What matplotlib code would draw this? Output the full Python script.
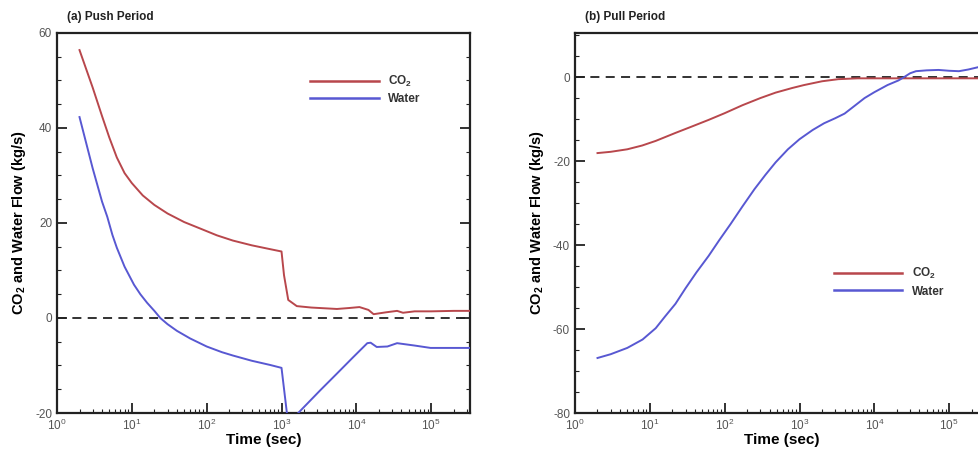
import matplotlib
matplotlib.use("Agg")
import matplotlib.pyplot as plt
from matplotlib.lines import Line2D
from matplotlib.ticker import LogLocator, MultipleLocator, NullFormatter

plt.rcParams['font.family'] = ['Liberation Sans', 'DejaVu Sans']
plt.rcParams['mathtext.fontset'] = 'custom'
plt.rcParams['mathtext.rm'] = 'Liberation Sans'
plt.rcParams['mathtext.bf'] = 'Liberation Sans:bold'
plt.rcParams['axes.unicode_minus'] = False

CO2_COLOR = '#b8474c'
WATER_COLOR = '#5858d2'

# (a) push period
push_t_co2 = [2, 3, 4, 5, 6.3, 8, 10, 14, 20, 30, 50, 80, 137, 224, 400, 700, 1000,
              1080, 1230, 1600, 2500, 5500, 8000, 11000, 14500, 17000, 25000,
              35000, 42000, 60000, 100000, 200000, 330000]
push_co2 = [56.4, 48.5, 42.5, 38.0, 33.8, 30.5, 28.4, 25.8, 23.8, 22.0, 20.2, 18.9,
            17.4, 16.3, 15.3, 14.5, 14.0, 9.0, 3.8, 2.5, 2.2, 1.9, 2.1, 2.3, 1.7,
            0.8, 1.2, 1.5, 1.1, 1.4, 1.4, 1.5, 1.5]

push_t_water = [2, 3, 4, 4.7, 5.5, 6.3, 8, 10.7, 13, 16, 20, 24, 30, 40, 60, 100,
                160, 224, 400, 710, 1000, 1180, 1350, 1670, 3300, 5500, 9000, 14000,
                15500, 18700, 26000, 35000, 60000, 98000, 330000]
push_water = [42.3, 31.5, 24.5, 21.3, 17.5, 14.8, 10.8, 7.0, 5.0, 3.2, 1.5, 0.0,
              -1.3, -2.7, -4.3, -6.0, -7.2, -7.9, -9.0, -9.9, -10.5, -20.0, -24.0,
              -20.0, -15.2, -11.7, -8.3, -5.3, -5.2, -6.1, -6.0, -5.3, -5.8, -6.3, -6.3]

# (b) pull period
pull_t_co2 = [2, 3, 5, 7.9, 12, 22, 35, 61, 100, 173, 300, 480, 800, 1150, 2000,
              3300, 6000, 20000, 100000, 330000]
pull_co2 = [-18.1, -17.8, -17.2, -16.3, -15.2, -13.3, -11.9, -10.2, -8.6, -6.7,
            -5.0, -3.7, -2.6, -1.9, -1.0, -0.5, -0.3, -0.3, -0.3, -0.3]

pull_t_water = [2, 3, 5, 8, 12, 16, 22, 30, 42, 61, 85, 120, 173, 250, 350, 480, 700,
                1000, 1500, 2130, 3000, 4000, 5400, 7400, 10000, 15000, 21000, 25000,
                30000, 36000, 50000, 72000, 100000, 135000, 180000, 250000, 330000]
pull_water = [-66.9, -66.0, -64.5, -62.5, -59.8, -57.0, -54.0, -50.3, -46.5, -42.6,
              -38.8, -35.0, -30.8, -26.7, -23.3, -20.3, -17.2, -14.8, -12.6, -11.0,
              -9.8, -8.7, -6.9, -5.0, -3.6, -1.9, -0.8, 0.0, 0.9, 1.4, 1.6, 1.7, 1.5,
              1.4, 1.8, 2.4, 2.8]

fig = plt.figure(figsize=(9.79, 4.53), dpi=100)
ax_a = fig.add_axes([0.0582, 0.0883, 0.4219, 0.8389])
ax_b = fig.add_axes([0.5873, 0.0883, 0.4219, 0.8389])


def style_axes(ax, ylim, title):
    ax.set_xscale('log')
    ax.set_xlim(1, 3.3e5)
    ax.set_ylim(*ylim)
    ax.axhline(0, color='#222222', lw=1.3, ls=(0, (5, 3.5)), zorder=1)
    ax.xaxis.set_major_locator(LogLocator(base=10, numticks=10))
    ax.xaxis.set_minor_locator(LogLocator(base=10, subs=range(2, 10), numticks=20))
    ax.xaxis.set_minor_formatter(NullFormatter())
    ax.yaxis.set_major_locator(MultipleLocator(20))
    ax.yaxis.set_minor_locator(MultipleLocator(5))
    ax.tick_params(which='both', direction='in', left=True, right=True,
                   bottom=True, top=False, labelsize=8.5, labelcolor='#555555',
                   color='#222222')
    ax.tick_params(which='major', length=7, width=1.3)
    ax.tick_params(which='minor', length=3, width=0.8)
    for sp in ax.spines.values():
        sp.set_linewidth(1.6)
        sp.set_color('#222222')
    ax.set_xlabel('Time (sec)', fontsize=11, fontweight='bold', labelpad=0)
    ax.set_ylabel(r'CO$_\mathbf{2}$ and Water Flow (kg/s)', fontsize=10.5,
                  fontweight='bold', labelpad=5)
    ax.text(0.024, 1.025, title, transform=ax.transAxes, fontsize=8.5,
            fontweight='bold', ha='left', va='bottom', color='#222222')


style_axes(ax_a, (-20, 60), '(a) Push Period')
style_axes(ax_b, (-80, 10.5), '(b) Pull Period')

ax_a.plot(push_t_co2, push_co2, color=CO2_COLOR, lw=1.4, zorder=3)
ax_a.plot(push_t_water, push_water, color=WATER_COLOR, lw=1.4, zorder=3)
ax_b.plot(pull_t_co2, pull_co2, color=CO2_COLOR, lw=1.4, zorder=3)
ax_b.plot(pull_t_water, pull_water, color=WATER_COLOR, lw=1.4, zorder=3)

handles = [Line2D([], [], color=CO2_COLOR, lw=1.8),
           Line2D([], [], color=WATER_COLOR, lw=1.8)]
labels = [r'CO$_\mathbf{2}$', 'Water']
for ax, anchor in [(ax_a, (0.613, 0.851)), (ax_b, (0.627, 0.345))]:
    leg = ax.legend(handles, labels, loc='center left', bbox_to_anchor=anchor,
                    frameon=False, borderpad=0, borderaxespad=0, handlelength=5.8,
                    handletextpad=0.8, labelspacing=0.35,
                    prop={'size': 8.5, 'weight': 'bold'})
    for t in leg.get_texts():
        t.set_color('#333333')

fig.savefig('out.png', dpi=100)
